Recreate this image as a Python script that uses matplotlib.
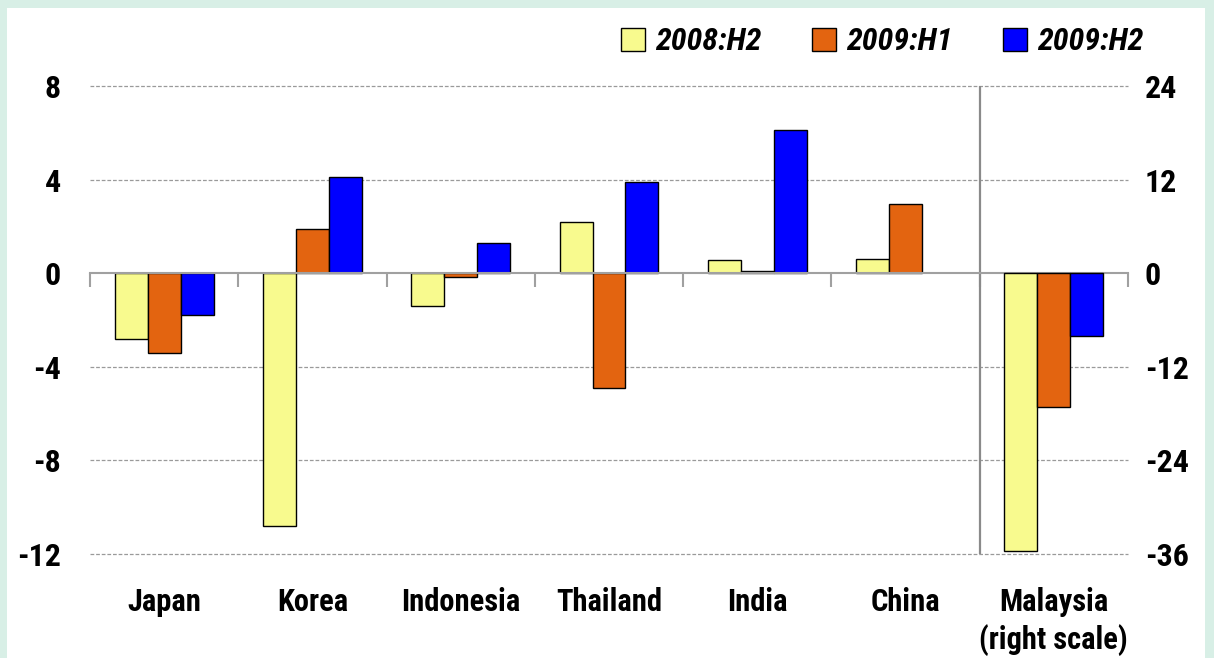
import os
import numpy as np
import matplotlib
matplotlib.use('Agg')
import matplotlib.pyplot as plt
from matplotlib import font_manager as fm
from matplotlib.patches import Rectangle
import matplotlib.transforms as mtransforms

## donnees

pays     = ['Japan', 'Korea', 'Indonesia', 'Thailand', 'India', 'China']
s2008_h2 = [-2.8, -10.8, -1.4, 2.2, 0.55, 0.6]
s2009_h1 = [-3.4, 1.9, -0.15, -4.9, 0.1, 2.95]
s2009_h2 = [-1.8, 4.1, 1.3, 3.9, 6.1, np.nan]   # pas de barre pour China

# Malaysia sur l'echelle de droite
malaisie_label = 'Malaysia\n(right scale)'
malaisie = [-35.6, -17.2, -8.1]

series  = ['2008:H2', '2009:H1', '2009:H2']
couleurs = ['#F8FA8E', '#E36410', '#0000FF']

gauche_ticks = [-12, -8, -4, 0, 4, 8]
droite_ticks = [-36, -24, -12, 0, 12, 24]

plt.rcParams['axes.unicode_minus'] = False

## police etroite si disponible

def trouve(motifs):
    for m in motifs:
        for f in fm.fontManager.ttflist:
            if m.lower() in os.path.basename(f.fname).lower():
                return f.fname
    return None

f_gras = trouve(['LiberationSansNarrow-Bold.', 'RobotoCondensed-Bold.', 'DejaVuSansCondensed-Bold.',
                 'OpenSans_Condensed-Bold.', 'Roboto-Bold.'])
f_ital = trouve(['LiberationSansNarrow-BoldItalic', 'RobotoCondensed-BoldItalic', 'DejaVuSansCondensed-BoldOblique',
                 'Roboto-BoldItalic'])

def police(taille, italique=False):
    chemin = f_ital if italique else f_gras
    if chemin:
        return fm.FontProperties(fname=chemin, size=taille)
    return fm.FontProperties(family=['Roboto', 'DejaVu Sans'], weight='bold',
                             style='italic' if italique else 'normal', size=taille)

fig = plt.figure(figsize=(12.14, 6.58), dpi=100)
fig.patch.set_facecolor('#D8EFE6')
fig.add_artist(Rectangle((7/1214, 0), (1205-7)/1214, 1-8/658, transform=fig.transFigure,
                         facecolor='white', edgecolor='none', zorder=0))

ax = fig.add_axes([90/1214, 104/658, (1128-90)/1214, (554-86)/658])
ax.set_facecolor('none')
ax2 = ax.twinx()

n = len(pays) + 1
x = np.arange(n)
w = 0.222

data = [s2008_h2, s2009_h1, s2009_h2]
for k in range(3):
    ax.bar(x[:-1] + (k-1)*w, data[k], width=w, color=couleurs[k],
           edgecolor='black', linewidth=1, zorder=3, label=series[k])
    ax2.bar(x[-1] + (k-1)*w, malaisie[k], width=w, color=couleurs[k],
            edgecolor='black', linewidth=1, zorder=3)

ax.set_xlim(-0.5, n-0.5)
ax.set_ylim(-12, 8)
ax2.set_ylim(-36, 24)
ax.set_yticks(gauche_ticks)
ax2.set_yticks(droite_ticks)

# grille pointillee
for t in gauche_ticks:
    if t != 0:
        ax.axhline(t, color='#9a9a9a', linestyle=(0, (3, 1.5)), linewidth=0.9, zorder=1, clip_on=False)

for a in (ax, ax2):
    for s in ['top', 'left', 'right', 'bottom']:
        a.spines[s].set_visible(False)
    a.tick_params(axis='y', length=0)
ax.tick_params(axis='y', pad=21)
ax2.tick_params(axis='y', pad=12)
for lab in ax.get_yticklabels() + ax2.get_yticklabels():
    lab.set_fontproperties(police(23))

# axe horizontal a zero avec petites graduations
ax.spines['bottom'].set_visible(True)
ax.spines['bottom'].set_position(('data', 0))
ax.spines['bottom'].set_color('#a0a0a0')
ax.spines['bottom'].set_linewidth(1.5)
ax.spines['bottom'].set_zorder(4)
ax.set_xticks(np.arange(n+1) - 0.5)
ax.set_xticklabels([])
ax.tick_params(axis='x', length=10, width=1.5, color='#a0a0a0', direction='out')

# separation avant Malaysia
ax.vlines(n-1.5, -12, 8, color='#8a8a8a', linewidth=1.6, zorder=2)

# noms des pays
trans = mtransforms.blended_transform_factory(ax.transData, ax.transAxes)
for i, nom in enumerate(pays + [malaisie_label]):
    ax.text(x[i], -0.07, nom, transform=trans, ha='center', va='top',
            fontproperties=police(22), linespacing=1.3)

# legende
leg = fig.legend(loc='center right', bbox_to_anchor=(1172/1214, 1-42/658), ncol=3,
                 frameon=False, handlelength=0.75, handleheight=0.75, handletextpad=0.3,
                 columnspacing=1.6, prop=police(23, italique=True))

fig.savefig('out.png', dpi=100)
